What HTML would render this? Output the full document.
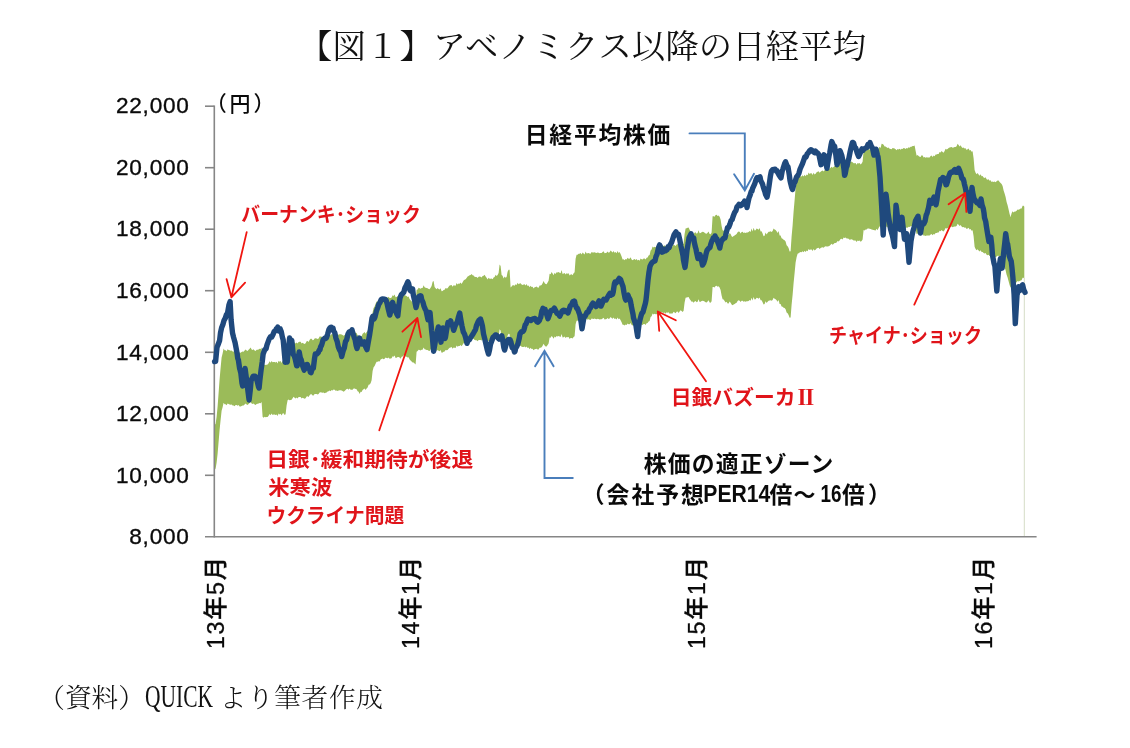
<!DOCTYPE html>
<html lang="ja">
<head>
<meta charset="utf-8">
<title>【図１】アベノミクス以降の日経平均</title>
<style>
html,body{margin:0;padding:0;background:#fff;}
body{width:1130px;height:748px;overflow:hidden;position:relative;}
svg{position:absolute;left:0;top:0;display:block;}
.mincho{font-family:"Liberation Serif","Noto Serif CJK JP","Noto Serif CJK SC",serif;}
.goth{font-family:"Liberation Sans","Noto Sans CJK JP","Noto Sans CJK SC",sans-serif;}
.red{fill:#e0141a;font-weight:700;}
.blk{fill:#0a0a0a;font-weight:700;}
.ax{fill:#0a0a0a;}
</style>
</head>
<body>
<svg width="1130" height="748" viewBox="0 0 1130 748">
<rect x="0" y="0" width="1130" height="748" fill="#ffffff"/>

<!-- title -->
<text class="mincho" x="299" y="58" font-size="33.3" font-weight="400" fill="#111" textLength="567" lengthAdjust="spacing">【図１】アベノミクス以降の日経平均</text>

<!-- band -->
<path d="M214.6,425.3 215.6,423.7 216.6,417.1 217.6,406.6 218.6,392.9 219.6,379.3 220.6,368.0 221.6,357.6 222.6,353.5 223.6,348.5 224.6,350.3 225.6,350.2 226.6,351.3 227.6,349.2 228.6,350.0 229.6,350.3 230.6,350.8 231.6,350.4 232.6,351.5 233.6,351.4 234.6,352.4 235.6,351.2 236.6,350.9 237.6,351.9 238.6,351.0 239.6,352.7 240.6,352.8 241.6,352.1 242.6,351.5 243.6,351.7 244.6,350.5 245.6,349.4 246.6,350.6 247.6,350.9 248.6,349.8 249.6,348.8 250.6,347.5 251.6,349.4 252.6,349.9 253.6,349.3 254.6,350.4 255.6,351.1 256.6,349.8 257.6,349.7 258.6,349.4 259.6,348.8 260.6,349.1 261.6,347.5 262.6,364.4 263.6,365.6 264.6,364.5 265.6,365.1 266.6,364.8 267.6,364.6 268.6,363.3 269.6,361.3 270.6,362.7 271.6,360.9 272.6,362.3 273.6,362.0 274.6,362.0 275.6,362.4 276.6,361.8 277.6,363.6 278.6,360.7 279.6,361.8 280.6,361.0 281.6,362.9 282.6,360.9 283.6,360.4 284.6,362.4 285.6,361.6 286.6,351.6 287.6,345.5 288.6,344.8 289.6,345.6 290.6,345.4 291.6,345.0 292.6,343.3 293.6,341.6 294.6,342.8 295.6,343.4 296.6,342.6 297.6,343.5 298.6,342.0 299.6,341.8 300.6,341.8 301.6,343.5 302.6,342.7 303.6,343.4 304.6,343.9 305.6,343.2 306.6,341.3 307.6,341.0 308.6,341.9 309.6,340.0 310.6,338.8 311.6,338.7 312.6,340.2 313.6,340.1 314.6,338.5 315.6,338.3 316.6,338.6 317.6,338.9 318.6,338.5 319.6,336.6 320.6,336.5 321.6,336.8 322.6,337.0 323.6,336.7 324.6,337.6 325.6,337.1 326.6,336.8 327.6,335.6 328.6,335.3 329.6,334.6 330.6,335.4 331.6,334.0 332.6,334.3 333.6,333.3 334.6,333.6 335.6,334.8 336.6,334.4 337.6,335.2 338.6,334.5 339.6,334.2 340.6,334.2 341.6,334.4 342.6,335.1 343.6,335.8 344.6,335.1 345.6,333.9 346.6,332.6 347.6,332.4 348.6,333.6 349.6,332.1 350.6,333.5 351.6,333.7 352.6,333.5 353.6,332.3 354.6,332.2 355.6,332.8 356.6,333.1 357.6,335.3 358.6,335.8 359.6,338.6 360.6,335.9 361.6,336.2 362.6,333.7 363.6,333.0 364.6,332.1 365.6,333.7 366.6,332.1 367.6,331.0 368.6,328.0 369.6,327.5 370.6,326.1 371.6,322.7 372.6,312.3 373.6,308.0 374.6,306.6 375.6,303.8 376.6,301.5 377.6,301.5 378.6,301.1 379.6,301.2 380.6,299.0 381.6,298.4 382.6,297.9 383.6,298.7 384.6,298.1 385.6,296.9 386.6,297.2 387.6,297.7 388.6,296.8 389.6,298.1 390.6,297.9 391.6,297.6 392.6,295.3 393.6,296.0 394.6,294.5 395.6,297.3 396.6,297.0 397.6,296.3 398.6,296.3 399.6,296.9 400.6,298.2 401.6,295.9 402.6,295.5 403.6,294.1 404.6,295.4 405.6,295.6 406.6,295.9 407.6,296.9 408.6,296.5 409.6,298.9 410.6,300.3 411.6,301.3 412.6,302.5 413.6,302.4 414.6,303.6 415.6,304.6 416.6,290.1 417.6,289.5 418.6,287.8 419.6,288.3 420.6,288.7 421.6,288.0 422.6,288.0 423.6,285.2 424.6,287.3 425.6,287.7 426.6,288.1 427.6,288.2 428.6,289.1 429.6,289.2 430.6,287.7 431.6,285.9 432.6,281.7 433.6,281.1 434.6,286.9 435.6,288.3 436.6,289.3 437.6,288.0 438.6,289.0 439.6,289.6 440.6,288.2 441.6,291.2 442.6,291.0 443.6,290.1 444.6,289.7 445.6,288.1 446.6,288.5 447.6,288.2 448.6,286.8 449.6,285.6 450.6,285.2 451.6,284.9 452.6,286.8 453.6,285.3 454.6,285.6 455.6,285.8 456.6,283.0 457.6,284.4 458.6,283.5 459.6,283.7 460.6,282.4 461.6,283.9 462.6,282.2 463.6,280.4 464.6,279.7 465.6,279.3 466.6,278.0 467.6,276.6 468.6,276.0 469.6,275.2 470.6,275.1 471.6,274.0 472.6,275.3 473.6,275.4 474.6,276.7 475.6,276.9 476.6,276.9 477.6,278.1 478.6,276.8 479.6,276.6 480.6,276.8 481.6,277.4 482.6,276.0 483.6,275.7 484.6,274.8 485.6,276.4 486.6,277.8 487.6,279.4 488.6,277.7 489.6,278.8 490.6,278.7 491.6,278.4 492.6,279.2 493.6,277.4 494.6,277.0 495.6,274.8 496.6,276.0 497.6,274.9 498.6,273.0 499.6,264.4 500.6,266.0 501.6,275.1 502.6,275.8 503.6,278.6 504.6,276.6 505.6,277.7 506.6,277.1 507.6,271.7 508.6,269.7 509.6,269.7 510.6,287.4 511.6,286.5 512.6,285.2 513.6,285.2 514.6,285.7 515.6,284.2 516.6,284.9 517.6,282.8 518.6,284.3 519.6,283.6 520.6,283.2 521.6,284.4 522.6,284.9 523.6,284.6 524.6,284.2 525.6,285.4 526.6,284.1 527.6,286.0 528.6,285.4 529.6,287.3 530.6,285.7 531.6,286.9 532.6,286.8 533.6,288.4 534.6,287.2 535.6,287.1 536.6,286.6 537.6,287.5 538.6,287.7 539.6,285.6 540.6,285.5 541.6,285.0 542.6,283.3 543.6,281.0 544.6,283.1 545.6,284.1 546.6,284.2 547.6,282.5 548.6,280.8 549.6,273.7 550.6,274.2 551.6,272.0 552.6,273.5 553.6,275.3 554.6,272.7 555.6,273.9 556.6,272.3 557.6,272.6 558.6,272.0 559.6,272.7 560.6,273.3 561.6,270.0 562.6,273.9 563.6,273.6 564.6,272.9 565.6,274.5 566.6,273.2 567.6,273.7 568.6,273.2 569.6,275.6 570.6,274.4 571.6,274.3 572.6,275.2 573.6,273.3 574.6,272.3 575.6,258.7 576.6,254.7 577.6,254.8 578.6,253.7 579.6,253.7 580.6,253.0 581.6,254.5 582.6,252.5 583.6,253.4 584.6,254.6 585.6,251.5 586.6,253.5 587.6,253.2 588.6,253.0 589.6,253.5 590.6,253.8 591.6,252.1 592.6,252.5 593.6,252.6 594.6,252.2 595.6,252.7 596.6,253.0 597.6,252.5 598.6,252.7 599.6,253.3 600.6,253.0 601.6,253.1 602.6,252.1 603.6,251.3 604.6,253.2 605.6,253.0 606.6,252.8 607.6,251.4 608.6,252.7 609.6,252.3 610.6,250.5 611.6,251.6 612.6,252.5 613.6,251.1 614.6,252.8 615.6,252.1 616.6,253.3 617.6,250.9 618.6,253.0 619.6,252.0 620.6,254.1 621.6,256.5 622.6,259.4 623.6,259.3 624.6,260.3 625.6,258.9 626.6,259.6 627.6,257.7 628.6,258.7 629.6,258.8 630.6,257.3 631.6,259.5 632.6,260.2 633.6,259.4 634.6,259.0 635.6,260.0 636.6,259.1 637.6,260.6 638.6,259.7 639.6,260.8 640.6,258.6 641.6,259.2 642.6,259.6 643.6,258.4 644.6,258.4 645.6,259.6 646.6,257.7 647.6,257.5 648.6,255.5 649.6,255.1 650.6,250.4 651.6,249.5 652.6,246.5 653.6,247.4 654.6,246.8 655.6,247.3 656.6,247.4 657.6,246.5 658.6,246.8 659.6,247.3 660.6,245.8 661.6,244.7 662.6,245.4 663.6,246.0 664.6,245.2 665.6,246.7 666.6,245.0 667.6,245.6 668.6,245.0 669.6,246.8 670.6,246.3 671.6,246.6 672.6,246.4 673.6,244.5 674.6,245.2 675.6,246.1 676.6,244.5 677.6,244.1 678.6,245.8 679.6,244.2 680.6,242.8 681.6,243.7 682.6,244.7 683.6,243.4 684.6,234.0 685.6,228.5 686.6,228.2 687.6,227.8 688.6,227.6 689.6,229.8 690.6,231.3 691.6,233.0 692.6,232.8 693.6,234.2 694.6,232.7 695.6,232.3 696.6,233.7 697.6,233.1 698.6,230.2 699.6,233.2 700.6,233.1 701.6,232.3 702.6,231.8 703.6,232.1 704.6,232.8 705.6,233.6 706.6,233.8 707.6,232.7 708.6,231.4 709.6,233.9 710.6,234.2 711.6,232.6 712.6,216.3 713.6,216.3 714.6,216.8 715.6,215.1 716.6,214.7 717.6,215.9 718.6,215.4 719.6,216.7 720.6,219.6 721.6,226.0 722.6,230.2 723.6,230.4 724.6,232.0 725.6,233.7 726.6,232.9 727.6,235.1 728.6,235.2 729.6,232.9 730.6,234.1 731.6,236.3 732.6,237.0 733.6,236.1 734.6,235.6 735.6,234.8 736.6,234.1 737.6,232.2 738.6,231.4 739.6,231.8 740.6,233.4 741.6,231.9 742.6,231.8 743.6,233.1 744.6,232.5 745.6,233.0 746.6,232.6 747.6,232.5 748.6,232.0 749.6,231.0 750.6,231.9 751.6,228.5 752.6,231.6 753.6,227.8 754.6,230.4 755.6,230.2 756.6,228.5 757.6,228.9 758.6,229.7 759.6,228.0 760.6,231.4 761.6,231.3 762.6,233.5 763.6,236.2 764.6,235.7 765.6,232.4 766.6,234.6 767.6,233.1 768.6,231.8 769.6,231.7 770.6,231.3 771.6,232.0 772.6,231.0 773.6,228.5 774.6,229.6 775.6,230.1 776.6,231.3 777.6,232.9 778.6,231.1 779.6,235.5 780.6,235.5 781.6,238.3 782.6,238.7 783.6,239.8 784.6,240.3 785.6,241.6 786.6,245.3 787.6,246.2 788.6,248.1 789.6,251.4 790.6,251.2 791.6,236.5 792.6,225.5 793.6,211.6 794.6,200.2 795.6,188.3 796.6,182.3 797.6,178.2 798.6,177.6 799.6,176.7 800.6,176.2 801.6,176.5 802.6,175.2 803.6,176.4 804.6,174.8 805.6,176.3 806.6,174.4 807.6,175.3 808.6,172.6 809.6,173.9 810.6,173.3 811.6,173.2 812.6,174.9 813.6,172.7 814.6,174.5 815.6,173.7 816.6,172.2 817.6,171.7 818.6,171.2 819.6,172.7 820.6,171.7 821.6,170.9 822.6,170.6 823.6,171.4 824.6,170.2 825.6,169.5 826.6,169.9 827.6,169.8 828.6,169.7 829.6,168.9 830.6,167.8 831.6,166.7 832.6,167.8 833.6,166.9 834.6,165.9 835.6,165.8 836.6,165.3 837.6,163.5 838.6,164.3 839.6,163.0 840.6,161.3 841.6,160.9 842.6,162.0 843.6,159.5 844.6,160.1 845.6,159.6 846.6,160.7 847.6,160.7 848.6,161.1 849.6,162.2 850.6,162.0 851.6,161.6 852.6,162.2 853.6,163.2 854.6,163.2 855.6,163.0 856.6,164.7 857.6,163.1 858.6,163.6 859.6,163.1 860.6,164.6 861.6,163.6 862.6,161.7 863.6,151.0 864.6,151.7 865.6,150.5 866.6,150.6 867.6,149.5 868.6,149.3 869.6,149.6 870.6,149.8 871.6,150.4 872.6,150.8 873.6,151.1 874.6,151.4 875.6,151.7 876.6,149.5 877.6,151.2 878.6,148.6 879.6,146.7 880.6,148.0 881.6,143.7 882.6,144.0 883.6,144.7 884.6,146.5 885.6,146.4 886.6,147.2 887.6,148.1 888.6,147.4 889.6,148.8 890.6,148.9 891.6,149.2 892.6,147.9 893.6,148.2 894.6,148.5 895.6,149.3 896.6,150.3 897.6,149.1 898.6,149.4 899.6,148.7 900.6,149.7 901.6,148.7 902.6,149.0 903.6,148.0 904.6,148.3 905.6,148.9 906.6,148.1 907.6,148.4 908.6,147.3 909.6,147.7 910.6,146.7 911.6,146.8 912.6,146.0 913.6,146.1 914.6,145.6 915.6,150.7 916.6,155.7 917.6,155.0 918.6,155.9 919.6,156.7 920.6,157.1 921.6,155.3 922.6,155.4 923.6,157.6 924.6,157.1 925.6,157.8 926.6,157.2 927.6,157.5 928.6,157.5 929.6,157.4 930.6,156.1 931.6,155.5 932.6,157.1 933.6,155.5 934.6,156.2 935.6,154.6 936.6,154.5 937.6,153.9 938.6,154.0 939.6,151.9 940.6,152.5 941.6,151.1 942.6,152.1 943.6,152.7 944.6,151.0 945.6,148.7 946.6,149.4 947.6,148.9 948.6,148.1 949.6,147.4 950.6,147.2 951.6,147.0 952.6,147.8 953.6,147.4 954.6,147.1 955.6,146.9 956.6,146.3 957.6,143.8 958.6,145.1 959.6,146.6 960.6,145.3 961.6,146.9 962.6,147.9 963.6,147.5 964.6,148.5 965.6,148.3 966.6,149.9 967.6,149.3 968.6,148.5 969.6,150.4 970.6,149.9 971.6,151.8 972.6,151.3 973.6,158.3 974.6,170.1 975.6,172.7 976.6,174.2 977.6,173.0 978.6,174.4 979.6,175.7 980.6,174.2 981.6,176.3 982.6,176.1 983.6,177.5 984.6,177.9 985.6,177.2 986.6,179.3 987.6,179.8 988.6,179.2 989.6,180.8 990.6,180.3 991.6,182.0 992.6,181.5 993.6,182.0 994.6,181.5 995.6,182.2 996.6,181.2 997.6,180.5 998.6,180.6 999.6,182.0 1000.6,183.0 1001.6,184.1 1002.6,186.0 1003.6,190.5 1004.6,193.5 1005.6,197.1 1006.6,202.1 1007.6,205.2 1008.6,209.5 1009.6,213.9 1010.6,217.1 1011.6,213.2 1012.6,211.3 1013.6,212.5 1014.6,211.4 1015.6,211.6 1016.6,210.8 1017.6,209.4 1018.6,209.8 1019.6,209.2 1020.6,208.6 1021.6,208.6 1022.6,205.7 1023.6,205.7 1024.3,206.7 L1024.3,278.7 1023.6,277.8 1022.6,277.8 1021.6,280.3 1020.6,280.4 1019.6,280.9 1018.6,281.4 1017.6,281.1 1016.6,282.3 1015.6,283.0 1014.6,282.8 1013.6,283.8 1012.6,282.7 1011.6,284.4 1010.6,287.8 1009.6,285.0 1008.6,281.2 1007.6,277.4 1006.6,274.7 1005.6,270.3 1004.6,267.2 1003.6,264.6 1002.6,260.6 1001.6,259.0 1000.6,258.0 999.6,257.1 998.6,255.8 997.6,255.8 996.6,256.4 995.6,257.3 994.6,256.7 993.6,257.1 992.6,256.7 991.6,257.1 990.6,255.6 989.6,256.1 988.6,254.7 987.6,255.2 986.6,254.7 985.6,252.9 984.6,253.5 983.6,253.1 982.6,251.9 981.6,252.1 980.6,250.3 979.6,251.6 978.6,250.5 977.6,249.2 976.6,250.3 975.6,249.0 974.6,246.7 973.6,236.3 972.6,230.3 971.6,230.7 970.6,229.0 969.6,229.5 968.6,227.8 967.6,228.5 966.6,229.0 965.6,227.6 964.6,227.8 963.6,226.9 962.6,227.2 961.6,226.4 960.6,225.0 959.6,226.1 958.6,224.8 957.6,223.7 956.6,225.9 955.6,226.4 954.6,226.6 953.6,226.8 952.6,227.2 951.6,226.5 950.6,226.7 949.6,226.8 948.6,227.4 947.6,228.2 946.6,228.6 945.6,227.9 944.6,229.9 943.6,231.5 942.6,230.9 941.6,230.1 940.6,231.3 939.6,230.8 938.6,232.6 937.6,232.5 936.6,233.0 935.6,233.1 934.6,234.5 933.6,234.0 932.6,235.3 931.6,233.9 930.6,234.4 929.6,235.6 928.6,235.6 927.6,235.6 926.6,235.4 925.6,236.0 924.6,235.4 923.6,235.8 922.6,233.8 921.6,233.8 920.6,235.3 919.6,234.9 918.6,234.3 917.6,233.4 916.6,234.1 915.6,229.7 914.6,225.2 913.6,225.7 912.6,225.6 911.6,226.3 910.6,226.3 909.6,227.1 908.6,226.7 907.6,227.7 906.6,227.4 905.6,228.2 904.6,227.6 903.6,227.4 902.6,228.2 901.6,228.0 900.6,228.8 899.6,228.0 898.6,228.6 897.6,228.3 896.6,229.4 895.6,228.5 894.6,227.8 893.6,227.5 892.6,227.3 891.6,228.4 890.6,228.1 889.6,228.0 888.6,226.8 887.6,227.5 886.6,226.7 885.6,226.0 884.6,226.0 883.6,224.5 882.6,223.9 881.6,223.6 880.6,227.3 879.6,226.2 878.6,227.9 877.6,230.2 876.6,228.7 875.6,230.6 874.6,230.3 873.6,230.0 872.6,229.8 871.6,229.4 870.6,228.9 869.6,228.8 868.6,228.5 867.6,228.6 866.6,229.6 865.6,229.5 864.6,230.6 863.6,230.0 862.6,239.4 861.6,241.0 860.6,241.8 859.6,240.5 858.6,241.0 857.6,240.6 856.6,242.0 855.6,240.5 854.6,240.6 853.6,240.6 852.6,239.8 851.6,239.2 850.6,239.6 849.6,239.8 848.6,238.8 847.6,238.5 846.6,238.5 845.6,237.5 844.6,237.9 843.6,237.5 842.6,239.6 841.6,238.7 840.6,239.0 839.6,240.5 838.6,241.6 837.6,241.0 836.6,242.5 835.6,242.9 834.6,243.0 833.6,243.9 832.6,244.7 831.6,243.8 830.6,244.7 829.6,245.7 828.6,246.3 827.6,246.4 826.6,246.6 825.6,246.2 824.6,246.8 823.6,247.8 822.6,247.2 821.6,247.4 820.6,248.1 819.6,249.0 818.6,247.7 817.6,248.1 816.6,248.5 815.6,249.8 814.6,250.5 813.6,248.9 812.6,250.9 811.6,249.4 810.6,249.5 809.6,250.0 808.6,248.9 807.6,251.3 806.6,250.5 805.6,252.1 804.6,250.8 803.6,252.2 802.6,251.2 801.6,252.3 800.6,252.0 799.6,252.5 798.6,253.3 797.6,253.8 796.6,257.3 795.6,262.6 794.6,273.0 793.6,283.1 792.6,295.1 791.6,304.8 790.6,317.6 789.6,317.8 788.6,314.9 787.6,313.3 786.6,312.5 785.6,309.3 784.6,308.1 783.6,307.7 782.6,306.7 781.6,306.4 780.6,303.9 779.6,303.9 778.6,300.1 777.6,301.7 776.6,300.2 775.6,299.2 774.6,298.7 773.6,297.8 772.6,300.0 771.6,300.8 770.6,300.2 769.6,300.6 768.6,300.7 767.6,301.8 766.6,303.1 765.6,301.2 764.6,304.1 763.6,304.5 762.6,302.2 761.6,300.2 760.6,300.3 759.6,297.4 758.6,298.8 757.6,298.1 756.6,297.8 755.6,299.3 754.6,299.5 753.6,297.1 752.6,300.5 751.6,297.8 750.6,300.8 749.6,300.0 748.6,300.9 747.6,301.3 746.6,301.3 745.6,301.7 744.6,301.3 743.6,301.8 742.6,300.7 741.6,300.8 740.6,302.0 739.6,300.7 738.6,300.3 737.6,301.1 736.6,302.7 735.6,303.3 734.6,304.0 733.6,304.4 732.6,305.3 731.6,304.6 730.6,302.7 729.6,301.6 728.6,303.6 727.6,303.6 726.6,301.7 725.6,302.4 724.6,300.9 723.6,299.4 722.6,299.3 721.6,295.6 720.6,290.0 719.6,287.4 718.6,286.3 717.6,286.7 716.6,285.7 715.6,286.1 714.6,287.6 713.6,287.1 712.6,287.1 711.6,301.3 710.6,302.8 709.6,302.6 708.6,300.3 707.6,301.5 706.6,302.4 705.6,302.3 704.6,301.5 703.6,300.9 702.6,300.7 701.6,301.1 700.6,301.8 699.6,301.9 698.6,299.3 697.6,301.8 696.6,302.3 695.6,301.1 694.6,301.4 693.6,302.8 692.6,301.5 691.6,301.7 690.6,300.2 689.6,298.9 688.6,297.0 687.6,297.2 686.6,297.5 685.6,297.8 684.6,302.6 683.6,310.8 682.6,312.0 681.6,311.1 680.6,310.3 679.6,311.6 678.6,312.9 677.6,311.4 676.6,311.8 675.6,313.2 674.6,312.4 673.6,311.8 672.6,313.5 671.6,313.6 670.6,313.4 669.6,313.8 668.6,312.2 667.6,312.8 666.6,312.2 665.6,313.7 664.6,312.4 663.6,313.1 662.6,312.5 661.6,312.0 660.6,312.9 659.6,314.2 658.6,313.8 657.6,313.6 656.6,314.3 655.6,314.3 654.6,313.8 653.6,314.4 652.6,313.6 651.6,316.2 650.6,317.0 649.6,321.1 648.6,321.5 647.6,323.1 646.6,323.3 645.6,325.0 644.6,323.9 643.6,324.0 642.6,325.0 641.6,324.7 640.6,324.1 639.6,326.1 638.6,325.1 637.6,325.9 636.6,324.6 635.6,325.4 634.6,324.5 633.6,324.8 632.6,325.5 631.6,324.9 630.6,323.0 629.6,324.3 628.6,324.2 627.6,323.4 626.6,325.0 625.6,324.4 624.6,325.6 623.6,324.7 622.6,324.8 621.6,322.3 620.6,320.2 619.6,318.4 618.6,319.2 617.6,317.4 616.6,319.5 615.6,318.4 614.6,319.0 613.6,317.6 612.6,318.8 611.6,318.0 610.6,317.0 609.6,318.6 608.6,319.0 607.6,317.9 606.6,319.0 605.6,319.2 604.6,319.4 603.6,317.7 602.6,318.5 601.6,319.3 600.6,319.2 599.6,319.5 598.6,319.0 597.6,318.8 596.6,319.2 595.6,318.9 594.6,318.5 593.6,318.9 592.6,318.8 591.6,318.5 590.6,320.0 589.6,319.7 588.6,319.3 587.6,319.4 586.6,319.6 585.6,317.9 584.6,320.6 583.6,319.6 582.6,318.8 581.6,320.6 580.6,319.3 579.6,319.9 578.6,319.8 577.6,320.8 576.6,320.8 575.6,324.2 574.6,336.2 573.6,337.0 572.6,338.6 571.6,337.9 570.6,338.0 569.6,339.0 568.6,336.9 567.6,337.3 566.6,336.9 565.6,338.1 564.6,336.6 563.6,337.3 562.6,337.5 561.6,334.1 560.6,337.0 559.6,336.5 558.6,335.9 557.6,336.4 556.6,336.1 555.6,337.6 554.6,336.5 553.6,338.8 552.6,337.1 551.6,335.9 550.6,337.8 549.6,337.4 548.6,343.5 547.6,345.0 546.6,346.5 545.6,346.4 544.6,345.6 543.6,343.7 542.6,345.7 541.6,347.2 540.6,347.7 539.6,347.8 538.6,349.6 537.6,349.5 536.6,348.7 535.6,349.1 534.6,349.2 533.6,350.2 532.6,348.8 531.6,348.9 530.6,347.8 529.6,349.3 528.6,347.6 527.6,348.1 526.6,346.4 525.6,347.6 524.6,346.6 523.6,346.9 522.6,347.1 521.6,346.7 520.6,345.7 519.6,346.0 518.6,346.6 517.6,345.3 516.6,347.2 515.6,346.5 514.6,347.9 513.6,347.4 512.6,347.4 511.6,348.6 510.6,349.3 509.6,333.9 508.6,333.8 507.6,335.6 506.6,340.3 505.6,340.8 504.6,339.9 503.6,341.6 502.6,339.2 501.6,338.6 500.6,330.6 499.6,329.2 498.6,336.8 497.6,338.4 496.6,339.4 495.6,338.3 494.6,340.3 493.6,340.6 492.6,342.2 491.6,341.5 490.6,341.7 489.6,341.8 488.6,340.8 487.6,342.3 486.6,340.9 485.6,339.7 484.6,338.3 483.6,339.1 482.6,339.3 481.6,340.6 480.6,340.1 479.6,339.9 478.6,340.0 477.6,341.2 476.6,340.2 475.6,340.2 474.6,340.0 473.6,338.8 472.6,338.7 471.6,337.6 470.6,338.5 469.6,338.7 468.6,339.4 467.6,339.8 466.6,341.1 465.6,342.2 464.6,342.6 463.6,343.2 462.6,344.8 461.6,346.3 460.6,344.9 459.6,346.1 458.6,345.9 457.6,346.7 456.6,345.5 455.6,347.9 454.6,347.7 453.6,347.5 452.6,348.8 451.6,347.1 450.6,347.4 449.6,347.7 448.6,348.8 447.6,350.1 446.6,350.3 445.6,349.9 444.6,351.4 443.6,351.7 442.6,352.5 441.6,352.7 440.6,350.0 439.6,351.2 438.6,350.7 437.6,349.9 436.6,351.0 435.6,350.1 434.6,348.9 433.6,343.9 432.6,344.3 431.6,348.0 430.6,349.6 429.6,350.9 428.6,350.8 427.6,350.1 426.6,350.0 425.6,349.6 424.6,349.3 423.6,347.4 422.6,349.8 421.6,349.8 420.6,350.5 419.6,350.1 418.6,349.7 417.6,351.1 416.6,351.7 415.6,364.4 414.6,363.5 413.6,362.5 412.6,362.5 411.6,361.5 410.6,360.6 409.6,359.4 408.6,357.3 407.6,357.6 406.6,356.7 405.6,356.5 404.6,356.3 403.6,355.2 402.6,356.4 401.6,356.8 400.6,358.8 399.6,357.6 398.6,357.1 397.6,357.1 396.6,357.7 395.6,358.0 394.6,355.6 393.6,356.8 392.6,356.3 391.6,358.2 390.6,358.5 389.6,358.7 388.6,357.6 387.6,358.3 386.6,357.9 385.6,357.6 384.6,358.7 383.6,359.3 382.6,358.6 381.6,358.9 380.6,359.4 379.6,361.4 378.6,361.3 377.6,361.7 376.6,361.7 375.6,363.7 374.6,366.1 373.6,367.3 372.6,371.1 371.6,380.3 370.6,383.2 369.6,384.5 368.6,384.8 367.6,387.5 366.6,388.5 365.6,389.9 364.6,388.5 363.6,389.2 362.6,389.9 361.6,392.1 360.6,391.8 359.6,394.1 358.6,391.7 357.6,391.3 356.6,389.3 355.6,389.1 354.6,388.6 353.6,388.6 352.6,389.7 351.6,389.8 350.6,389.7 349.6,388.4 348.6,389.8 347.6,388.7 346.6,388.9 345.6,390.0 344.6,391.1 343.6,391.7 342.6,391.1 341.6,390.5 340.6,390.3 339.6,390.3 338.6,390.5 337.6,391.1 336.6,390.4 335.6,390.8 334.6,389.8 333.6,389.5 332.6,390.4 331.6,390.1 330.6,391.3 329.6,390.6 328.6,391.2 327.6,391.5 326.6,392.5 325.6,392.8 324.6,393.2 323.6,392.5 322.6,392.7 321.6,392.6 320.6,392.3 319.6,392.4 318.6,394.0 317.6,394.4 316.6,394.1 315.6,393.9 314.6,394.0 313.6,395.5 312.6,395.6 311.6,394.3 310.6,394.3 309.6,395.3 308.6,397.0 307.6,396.3 306.6,396.5 305.6,398.2 304.6,398.8 303.6,398.3 302.6,397.7 301.6,398.5 300.6,397.0 299.6,396.9 298.6,397.1 297.6,398.4 296.6,397.6 295.6,398.4 294.6,397.8 293.6,396.7 292.6,398.3 291.6,399.7 290.6,400.1 289.6,400.2 288.6,399.5 287.6,400.2 286.6,405.5 285.6,414.3 284.6,415.0 283.6,413.2 282.6,413.6 281.6,415.4 280.6,413.7 279.6,414.4 278.6,413.5 277.6,416.0 276.6,414.4 275.6,415.0 274.6,414.6 273.6,414.6 272.6,414.9 271.6,413.6 270.6,415.2 269.6,414.0 268.6,415.8 267.6,416.9 266.6,417.0 265.6,417.3 264.6,416.8 263.6,417.8 262.6,416.7 261.6,401.9 260.6,403.3 259.6,403.1 258.6,403.6 257.6,403.8 256.6,403.9 255.6,405.1 254.6,404.5 253.6,403.5 252.6,404.0 251.6,403.6 250.6,401.9 249.6,403.1 248.6,403.9 247.6,404.9 246.6,404.6 245.6,403.6 244.6,404.6 243.6,405.6 242.6,405.4 241.6,405.9 240.6,406.6 239.6,406.5 238.6,404.9 237.6,405.8 236.6,404.9 235.6,405.1 234.6,406.2 233.6,405.4 232.6,405.4 231.6,404.4 230.6,404.8 229.6,404.4 228.6,404.1 227.6,403.4 226.6,405.2 225.6,404.3 224.6,404.3 223.6,402.8 222.6,407.2 221.6,410.8 220.6,419.9 219.6,429.7 218.6,441.7 217.6,453.7 216.6,462.8 215.6,468.6 214.6,470.0Z" fill="#9bbb59" stroke="none"/>
<line x1="1024.3" y1="278" x2="1024.3" y2="537" stroke="#d5dcc6" stroke-width="1"/>

<!-- axes -->
<g stroke="#868686" stroke-width="1.6" fill="none">
<line x1="214.3" y1="105.4" x2="214.3" y2="537.6"/>
<line x1="205" y1="536.8" x2="1036.6" y2="536.8"/>
<line x1="205" y1="106.2" x2="214.3" y2="106.2"/>
<line x1="205" y1="167.7" x2="214.3" y2="167.7"/>
<line x1="205" y1="229.2" x2="214.3" y2="229.2"/>
<line x1="205" y1="290.7" x2="214.3" y2="290.7"/>
<line x1="205" y1="352.3" x2="214.3" y2="352.3"/>
<line x1="205" y1="413.8" x2="214.3" y2="413.8"/>
<line x1="205" y1="475.3" x2="214.3" y2="475.3"/>
</g>

<!-- y labels -->
<g class="goth ax" font-size="22.6" text-anchor="end" letter-spacing="0.75" stroke="#0a0a0a" stroke-width="0.35">
<text x="189.6" y="113.4">22,000</text>
<text x="189.6" y="174.9">20,000</text>
<text x="189.6" y="236.4">18,000</text>
<text x="189.6" y="297.9">16,000</text>
<text x="189.6" y="359.5">14,000</text>
<text x="189.6" y="421.0">12,000</text>
<text x="189.6" y="482.5">10,000</text>
<text x="189.6" y="544.0">8,000</text>
</g>
<g class="goth ax" font-size="21" font-weight="500"><text x="205.7" y="110.8">（</text><text x="229.4" y="110.8">円</text><text x="253.5" y="110.8">）</text></g>

<!-- x labels -->
<g class="goth ax" font-size="23.3" font-weight="500" stroke="#0a0a0a" stroke-width="0.3">
<text transform="translate(223.6,649) rotate(-90)" textLength="92" lengthAdjust="spacing">13年5月</text>
<text transform="translate(418.8,649) rotate(-90)" textLength="92" lengthAdjust="spacing">14年1月</text>
<text transform="translate(704.9,649) rotate(-90)" textLength="92" lengthAdjust="spacing">15年1月</text>
<text transform="translate(992.1,649) rotate(-90)" textLength="92" lengthAdjust="spacing">16年1月</text>
</g>

<!-- nikkei line -->
<path d="M214.6,361.6 215.6,361.4 217.0,347.3 218.2,344.4 219.6,340.5 220.5,332.9 221.6,327.8 222.9,324.5 224.0,320.5 225.3,318.1 226.5,314.4 227.0,314.2 227.7,312.2 228.9,305.2 230.1,301.5 231.1,319.9 232.5,332.8 233.6,337.4 235.1,342.8 236.0,347.6 237.2,354.1 237.7,358.3 238.4,360.0 239.6,368.4 240.1,370.0 240.8,372.8 242.0,383.2 242.7,386.0 243.2,384.2 244.3,375.1 245.1,368.5 247.1,383.9 247.9,390.6 249.1,400.0 250.3,389.7 251.1,380.5 253.1,376.3 253.9,376.3 255.1,376.3 256.1,377.5 257.4,382.1 258.6,387.0 259.1,388.0 259.8,380.8 261.1,369.8 262.2,362.1 263.1,354.2 264.6,350.0 266.1,348.5 267.0,344.9 268.1,341.9 269.2,338.8 270.5,336.7 271.7,337.1 273.2,334.0 274.1,331.6 275.3,330.9 276.5,328.6 277.2,328.4 277.7,327.1 278.9,331.0 280.1,328.7 281.2,331.4 282.4,337.2 283.2,339.9 285.2,362.2 286.0,361.5 287.2,362.0 288.4,349.3 289.6,338.0 290.8,340.8 291.8,340.5 293.2,354.5 294.3,355.7 295.2,359.0 296.7,365.8 297.2,365.8 297.9,362.1 299.2,352.0 300.3,358.1 301.2,359.8 302.7,366.1 304.2,370.1 305.0,367.4 306.2,364.6 307.3,364.5 308.6,367.8 309.8,369.8 310.3,372.1 311.0,372.7 312.2,368.7 313.3,368.3 314.6,358.1 315.3,353.9 316.9,354.0 318.3,352.4 319.3,350.0 320.0,349.9 320.5,347.1 321.7,344.9 323.0,340.2 324.1,338.7 325.3,337.7 326.0,338.3 326.5,337.5 327.6,334.3 329.0,329.3 330.0,327.9 331.2,327.2 332.4,329.1 333.0,328.1 333.6,331.0 334.8,332.7 336.0,338.4 337.2,341.5 338.4,347.2 339.0,348.5 339.5,349.8 340.7,351.7 341.7,356.5 343.1,351.0 344.3,348.0 345.0,344.0 345.5,341.5 346.7,339.7 348.0,334.1 349.1,332.0 350.3,331.5 351.4,331.1 352.0,329.8 352.6,332.3 353.8,335.9 354.5,338.2 355.0,339.0 356.2,345.8 357.0,348.5 358.6,343.1 359.5,338.1 361.0,342.4 362.0,344.1 363.4,344.0 364.5,341.8 365.7,346.9 367.0,349.6 368.1,343.0 369.7,334.2 370.5,328.8 372.0,318.1 372.9,316.2 374.1,319.0 375.0,316.9 376.4,311.2 378.0,306.8 378.8,304.2 380.0,302.4 381.2,299.6 382.4,298.9 384.0,299.3 384.8,299.1 386.0,300.1 387.0,303.2 388.3,309.1 389.8,315.1 390.7,311.5 391.9,304.0 392.6,302.4 393.1,304.5 394.3,306.2 395.0,309.8 395.5,311.1 396.7,313.7 397.8,315.9 399.0,304.6 400.0,298.0 401.4,294.5 403.0,293.2 403.8,292.3 405.0,287.7 406.2,285.5 407.8,281.8 408.6,283.4 410.0,290.3 410.9,291.1 412.1,288.8 412.6,288.9 413.3,294.8 414.0,298.0 414.5,300.0 416.0,307.5 416.9,303.9 418.0,297.9 419.3,296.3 420.5,295.8 421.0,295.9 421.7,299.6 423.0,302.3 424.0,306.3 425.2,309.1 426.0,310.4 428.0,319.7 428.8,317.0 430.0,312.5 431.6,330.5 432.4,337.5 433.6,351.2 434.8,344.5 436.0,336.1 437.1,332.1 438.4,326.9 439.5,333.4 441.0,342.2 441.9,334.3 443.0,327.9 444.3,336.1 445.0,338.4 445.5,337.2 446.6,329.9 448.0,322.4 449.0,323.1 450.2,322.7 450.7,320.8 451.4,323.8 452.6,326.1 453.7,330.3 455.0,326.1 456.0,324.2 457.4,321.6 458.5,317.0 459.7,313.0 460.9,320.2 462.0,326.1 463.3,331.9 464.5,334.0 465.7,337.8 467.0,343.3 468.1,340.1 469.3,339.8 470.0,338.6 471.6,336.1 473.0,334.0 474.0,332.2 475.2,330.2 475.7,328.9 476.4,325.8 478.0,321.9 478.8,320.6 480.0,319.5 480.5,319.0 481.2,321.2 482.4,325.9 483.0,330.2 483.5,333.9 484.7,338.6 486.0,344.3 487.1,349.2 488.5,354.1 489.5,350.0 490.5,344.2 491.9,340.5 493.0,337.3 494.2,336.3 495.4,334.9 496.0,335.0 496.6,335.1 497.8,337.7 499.0,339.1 500.2,338.2 501.8,335.8 502.6,339.6 503.8,347.4 504.6,350.1 506.1,344.6 507.0,341.2 508.5,339.4 510.0,339.6 510.9,341.7 512.1,347.5 512.6,348.0 513.3,347.7 514.5,351.9 515.0,351.3 515.7,348.1 516.9,346.2 517.8,344.2 519.2,338.5 520.0,333.9 521.6,331.6 523.0,331.6 524.0,329.7 525.2,324.9 526.0,324.1 528.0,319.1 528.8,319.8 529.9,319.6 531.1,320.4 532.0,319.5 533.5,318.8 535.0,318.4 535.9,320.2 537.1,321.9 538.0,322.2 539.5,320.3 540.0,318.5 540.7,317.5 541.9,310.8 542.4,310.5 543.0,308.3 544.2,310.4 545.0,309.3 546.6,314.1 548.0,318.7 549.0,315.9 550.2,312.1 551.0,310.4 552.6,310.5 553.8,308.9 554.4,308.1 554.9,309.1 556.1,311.4 557.0,313.4 558.5,314.2 559.7,316.2 560.9,313.8 562.0,311.1 563.3,310.2 564.5,311.4 565.0,310.5 565.6,310.8 566.8,311.8 568.0,312.9 569.2,309.3 570.4,305.6 571.0,305.3 571.6,304.8 572.8,301.8 574.0,303.2 574.5,301.1 575.2,304.2 576.4,307.6 577.0,308.6 577.5,308.4 578.7,311.8 579.7,314.5 581.1,321.9 582.0,328.9 583.5,319.8 584.0,316.3 584.7,316.8 585.9,314.7 587.0,312.2 588.3,312.2 589.4,309.0 590.0,308.2 590.6,307.8 591.8,304.8 593.0,303.1 594.2,304.7 595.4,305.1 596.0,306.6 596.6,305.8 597.8,303.3 599.0,300.9 600.2,303.7 601.0,306.1 602.5,302.6 603.8,299.3 604.9,300.1 606.1,300.1 607.0,298.2 608.5,295.5 610.0,293.3 610.9,295.2 612.1,293.5 612.6,294.2 613.2,292.0 614.4,283.9 615.0,282.1 615.6,283.4 616.8,282.1 618.0,280.2 619.2,278.4 620.6,279.5 621.6,282.7 623.0,286.5 624.0,292.7 625.1,298.3 625.8,300.1 626.3,297.8 627.5,295.6 628.0,295.2 628.7,297.2 629.9,299.3 630.6,301.9 631.1,305.1 632.3,311.0 633.0,314.1 633.5,317.8 635.0,322.4 635.9,325.2 637.0,332.6 637.7,336.5 638.2,330.9 639.3,322.5 641.0,315.9 641.8,313.4 643.0,312.1 644.0,308.3 645.4,303.3 646.0,300.0 646.6,294.5 648.0,280.2 648.9,272.8 650.0,266.4 651.3,263.7 652.0,262.6 652.5,262.3 653.7,261.3 655.0,260.9 656.1,256.2 657.0,254.4 658.5,247.8 659.6,244.9 660.9,247.7 662.0,252.2 663.2,251.8 664.4,249.3 665.6,250.7 667.0,249.8 668.0,246.9 669.2,247.5 670.0,245.1 671.6,242.3 673.0,238.1 673.9,235.2 675.1,233.1 676.0,231.9 677.5,234.8 678.5,234.3 679.9,240.4 681.0,246.2 682.3,252.2 683.0,255.8 683.5,260.1 685.0,267.4 685.8,261.7 687.0,250.2 688.2,243.3 689.0,238.0 691.0,233.8 691.8,236.8 693.0,238.3 693.7,238.1 694.2,241.8 695.4,247.2 696.0,249.0 696.5,252.0 698.0,258.6 698.9,256.3 700.0,254.6 701.3,259.1 702.5,265.1 703.7,263.1 705.0,259.0 706.1,253.7 707.0,250.5 708.4,248.7 710.0,247.4 710.8,244.1 712.0,240.7 712.6,240.1 713.2,238.1 714.4,238.8 715.0,236.0 715.6,237.7 716.8,238.7 717.8,242.2 719.2,245.9 719.8,248.1 720.4,244.7 721.5,240.6 722.0,240.5 722.7,239.2 723.9,238.1 725.0,238.0 726.3,232.3 727.0,230.0 727.5,227.6 728.7,227.3 730.0,224.0 731.1,220.5 732.2,219.5 733.0,216.8 734.6,212.5 736.0,210.4 737.0,206.8 738.2,205.5 739.0,204.4 740.6,205.7 742.0,204.8 743.0,203.1 744.1,202.5 744.6,201.0 745.3,204.5 746.5,204.9 747.0,207.5 747.7,203.9 749.0,197.9 750.1,195.3 751.3,191.3 751.9,191.3 752.5,188.6 754.0,185.3 754.9,183.3 756.0,179.8 757.0,177.8 758.4,177.9 760.0,176.9 760.8,180.7 762.4,183.8 763.2,186.6 764.4,190.4 765.0,192.0 765.6,194.5 767.0,197.1 768.0,192.5 769.0,186.2 770.3,176.8 771.0,173.0 771.5,171.0 772.7,169.7 774.0,169.4 775.1,169.2 776.3,171.2 777.0,170.8 777.5,172.3 779.0,175.0 779.9,176.4 781.0,177.9 782.2,171.1 783.0,168.9 784.6,163.7 785.5,161.8 787.0,165.8 788.0,166.9 789.4,175.7 790.0,180.4 790.6,183.1 791.8,187.8 792.5,189.5 794.1,183.3 795.0,181.9 796.5,177.0 798.0,175.2 798.9,173.3 800.1,169.0 801.0,167.0 802.5,163.7 804.0,159.3 804.8,157.0 806.0,157.2 807.2,153.8 808.0,153.2 809.6,150.8 810.8,149.7 812.0,150.4 813.2,151.8 814.4,152.6 815.5,151.2 816.0,152.7 816.7,152.4 817.9,153.4 819.0,154.9 820.3,161.2 821.0,164.7 821.5,162.8 822.7,159.9 824.0,154.8 825.1,160.9 826.3,165.1 827.0,168.3 827.5,164.6 829.0,156.0 829.8,152.5 831.0,145.4 831.8,141.6 833.4,145.4 834.6,146.2 835.8,154.7 837.0,164.7 838.2,160.9 839.4,154.5 840.0,150.7 840.5,151.9 841.7,155.1 842.6,159.3 844.1,170.2 844.6,175.4 845.3,173.3 846.5,166.6 847.0,166.3 847.7,162.6 848.9,158.2 850.0,152.4 851.2,147.1 852.4,142.5 853.0,142.4 853.6,143.1 854.8,147.4 855.8,148.2 857.2,152.9 858.6,156.4 859.6,154.5 861.0,151.1 862.0,148.9 863.1,150.3 864.0,149.0 865.5,148.1 867.0,147.3 867.9,144.5 869.1,145.1 870.0,142.6 871.5,146.6 872.0,147.2 872.7,148.9 874.0,155.1 875.0,153.5 876.0,149.2 877.4,155.0 878.0,156.9 878.6,161.8 880.0,177.0 881.0,194.4 881.6,205.0 882.2,215.7 883.2,235.0 884.4,209.4 886.0,194.3 887.0,202.3 888.0,213.0 889.3,221.3 890.0,225.3 890.5,229.1 892.0,234.2 892.9,237.9 894.5,246.6 895.3,223.7 896.0,205.3 896.5,208.4 898.0,221.5 898.9,224.8 900.0,229.5 901.2,220.7 902.0,217.3 903.6,231.8 904.5,239.3 906.0,235.7 906.5,233.6 907.2,239.9 908.4,254.4 909.0,262.3 909.6,255.5 911.0,240.9 911.9,235.9 913.0,231.1 914.3,226.7 915.0,223.3 915.5,220.8 916.7,218.7 918.0,216.2 919.1,223.1 920.5,233.0 921.5,227.0 922.5,222.9 923.8,223.8 925.0,221.4 926.2,214.9 927.0,213.4 928.6,207.4 929.8,200.3 931.0,200.5 932.0,203.2 933.4,198.9 934.0,197.0 934.5,199.5 936.0,204.8 936.9,200.1 938.0,191.3 939.3,185.5 940.6,179.4 941.7,179.3 942.9,177.5 943.8,177.9 945.3,181.6 946.0,184.8 946.5,184.7 947.6,181.2 948.6,176.9 950.0,173.1 951.0,172.2 952.4,172.3 954.0,170.4 954.8,169.5 956.0,172.4 957.0,172.4 958.6,168.3 959.5,170.3 961.0,174.8 961.9,178.2 963.1,179.0 963.8,181.0 964.3,183.6 965.5,188.4 966.0,191.5 966.7,191.7 968.0,194.8 969.1,203.9 970.0,211.3 971.4,195.0 972.0,187.4 972.6,192.0 974.0,198.6 975.0,199.9 976.2,201.9 977.0,202.9 978.6,203.6 979.9,205.3 981.0,198.9 982.1,205.1 983.3,208.7 984.0,212.9 984.5,217.6 985.7,221.5 986.5,227.0 988.1,236.8 988.9,241.6 990.8,237.2 991.7,244.5 992.5,255.3 994.0,263.2 994.9,266.1 996.8,291.0 997.6,280.5 998.5,270.8 1000.4,258.7 1001.2,262.9 1002.1,268.2 1003.8,251.4 1004.8,242.9 1005.7,233.7 1007.1,243.0 1007.6,243.9 1008.3,248.7 1009.3,256.2 1010.7,260.1 1011.2,261.0 1011.9,267.0 1012.9,277.6 1014.1,294.6 1015.3,323.6 1017.0,295.1 1017.9,291.3 1018.5,286.6 1019.0,289.1 1020.1,290.3 1021.4,287.1 1022.1,285.3 1022.6,284.9 1023.8,289.9 1025.0,292.4" fill="none" stroke="#1f497d" stroke-width="5.4" stroke-linejoin="round" stroke-linecap="round"/>

<!-- arrows red -->
<g stroke="#f01610" stroke-width="1.8" fill="none" stroke-linecap="round" stroke-linejoin="round">
<path d="M246.7,232.1 L231.4,297.3 M226.6,279.2 L231.4,297.3 L245.1,282.6"/>
<path d="M379.3,430.3 L417.4,318 M402.4,331.7 L417.4,318 L421,337.1"/>
<path d="M706,381.2 L657.8,311.5 M675.8,320.3 L657.8,311.5 L659.2,330.8"/>
<path d="M914.3,304.6 L965.1,192.9 M948.6,204.3 L965.1,192.9 L966.4,211.9"/>
</g>
<!-- connectors blue -->
<g stroke="#4a7ebb" stroke-width="1.9" fill="none" stroke-linecap="round" stroke-linejoin="miter">
<path d="M689.5,133.4 L744.8,133.4 L744.8,190.4 M734.1,174.3 L744.8,190.4 L754,173.8"/>
<path d="M572.8,478 L544.5,478 L544.5,350.8 M535.1,366.3 L544.5,350.8 L553.6,366.3"/>
</g>

<!-- annotations -->
<g class="goth red" font-size="20.3">
<text x="241.3" y="222.3" textLength="179.5" lengthAdjust="spacingAndGlyphs">バーナンキ･ショック</text>
<text x="266.2" y="467.3" textLength="207" lengthAdjust="spacingAndGlyphs">日銀･緩和期待が後退</text>
<text x="268.3" y="495.3" textLength="64" lengthAdjust="spacingAndGlyphs">米寒波</text>
<text x="266.4" y="523.1" textLength="137.8" lengthAdjust="spacingAndGlyphs">ウクライナ問題</text>
<text x="670.8" y="405" textLength="145.5" lengthAdjust="spacingAndGlyphs">日銀バズーカ<tspan font-family="'Liberation Serif','Noto Serif CJK JP','Noto Serif CJK SC',serif" font-weight="900">Ⅱ</tspan></text>
<text x="829" y="342.7" textLength="153" lengthAdjust="spacingAndGlyphs">チャイナ･ショック</text>
</g>
<g class="goth blk" font-size="22.8">
<text x="524.8" y="143.2" textLength="145.6" lengthAdjust="spacing">日経平均株価</text>
<text x="643.8" y="472" textLength="189.6" lengthAdjust="spacing">株価の適正ゾーン</text>
<text x="581.8" y="503" textLength="122" lengthAdjust="spacing">（会社予想</text>
<text x="703.3" y="502.3" font-size="23.2" textLength="67" lengthAdjust="spacingAndGlyphs">PER14</text>
<text x="769.4" y="503">倍</text><text x="793.4" y="503" textLength="22" lengthAdjust="spacingAndGlyphs">～</text>
<text x="820.6" y="502.3" font-size="23.2" textLength="21" lengthAdjust="spacingAndGlyphs">16</text>
<text x="841.9" y="503" textLength="48.8" lengthAdjust="spacing">倍）</text>
</g>

<!-- footnote -->
<g class="mincho" font-size="26.67" font-weight="300" fill="#111">
<text x="38.2" y="707" textLength="106.7" lengthAdjust="spacing">（資料）</text>
<text x="145" y="706.6" font-size="31.5" textLength="68" lengthAdjust="spacingAndGlyphs">QUICK</text>
<text x="219.8" y="707" textLength="163" lengthAdjust="spacing">より筆者作成</text>
</g>
</svg>
</body>
</html>
